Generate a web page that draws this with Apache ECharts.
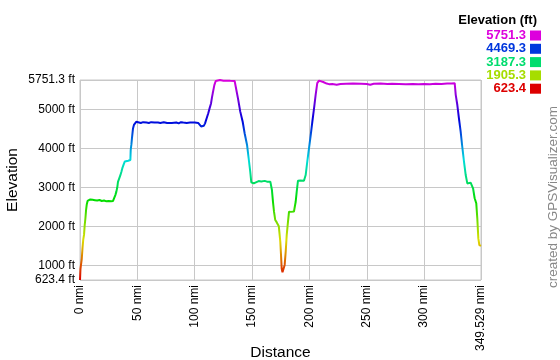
<!DOCTYPE html>
<html>
<head>
<meta charset="utf-8">
<script src="https://cdn.jsdelivr.net/npm/echarts@6/dist/echarts.min.js"></script>
<style>
html,body{margin:0;padding:0;background:#fff;}
#chart{width:560px;height:360px;}
</style>
</head>
<body>
<div id="chart"></div>
<script>
// ---- data ----
const distances = [0,0.4,0.8,1.5,2.2,2.8,3.5,4.1,4.7,5.3,5.9,6.6,7.5,9,11,13,15,17,19,21,23,25,27,28.8,29.6,30.8,31.7,32.5,33.1,34.2,35.2,36.1,36.9,38,39,40.5,42,43.9,44.2,44.8,45.3,46.2,47,47.7,49,50.5,53,55,58,60,62,65,68,70,73,76,80,84,86,88,90,93,96,100,103,104.6,105.5,106.6,108,109,110.4,111.8,113,114.2,115,115.7,116.5,117.1,118.3,120,122,125,128,131,134.8,136,137.7,139.7,141.8,143.5,145.6,147,148.4,149.3,150.5,151.4,153,155.7,158,161,163,165.9,167.3,168.2,169.1,170.2,171.5,172.3,173.3,174.1,174.6,175.2,175.8,176.5,177.2,178.4,179.3,180.2,181.3,182.2,184,186.5,188,188.9,190,192,195.2,196.7,198.1,199.6,201.1,202.5,204,205.4,206.8,208.3,210,212,215,217,220,223.7,227,232,238,245,250,253,256,262,268,272,278,284,290,295,300,305,310,315,320,324,326.6,327.5,328.9,330.3,331.8,333.2,334.7,336.2,337.6,339,340.5,341.1,342.6,344,345.4,346.3,347.2,348.1,349.529];
const elevations = [623.4,900,1000,1150,1450,1650,1780,2030,2200,2420,2560,2650,2700,2690,2680,2670,2660,2675,2650,2660,2640,2650,2640,2650,2700,2800,2890,3000,3140,3230,3310,3400,3490,3580,3660,3690,3680,3700,3960,4100,4260,4510,4600,4640,4680,4670,4650,4670,4660,4650,4670,4660,4660,4650,4670,4650,4650,4660,4640,4670,4660,4650,4660,4660,4650,4640,4560,4520,4580,4640,4770,4900,5030,5150,5300,5410,5530,5620,5725,5740,5751.3,5730,5735,5730,5725,5540,5280,4940,4680,4385,4085,3745,3400,3130,3090,3100,3150,3160,3150,3165,3145,3145,2930,2630,2375,2160,2100,2077,2000,1950,1600,1270,920,820,840,1010,1350,1780,2120,2375,2370,2380,2630,2890,3170,3175,3170,3315,3656,4000,4340,4680,5025,5370,5670,5735,5720,5700,5660,5645,5650,5630,5650,5655,5660,5655,5650,5630,5655,5660,5650,5655,5650,5645,5650,5640,5650,5640,5655,5650,5660,5660,5670,5370,5110,4770,4430,4040,3660,3315,3100,3090,3120,3110,2975,2720,2590,2205,1690,1520,1500];
const yTicks = [623.4, 1000, 2000, 3000, 4000, 5000, 5751.3];
const xTicks = [0, 50, 100, 150, 200, 250, 300, 349.529];
const legendValues = [5751.3, 4469.3, 3187.3, 1905.3, 623.4];
const yName = 'Elevation';
const xName = 'Distance';
const legendTitle = 'Elevation (ft)';
const creditText = 'created by GPSVisualizer.com';

// ---- colour helpers ----
const eMin = yTicks[0], eMax = yTicks[yTicks.length - 1];
function hsvColor(h) {
  const v = 221;
  const hp = (h % 360) / 60;
  const x = Math.round(v * (1 - Math.abs(hp % 2 - 1)));
  let r = 0, g = 0, b = 0;
  if (hp < 1) { r = v; g = x; }
  else if (hp < 2) { r = x; g = v; }
  else if (hp < 3) { g = v; b = x; }
  else if (hp < 4) { g = x; b = v; }
  else if (hp < 5) { r = x; b = v; }
  else { r = v; b = x; }
  return 'rgb(' + r + ',' + g + ',' + b + ')';
}
function elevColor(e) { return hsvColor((e - eMin) / (eMax - eMin) * 300); }
const rampColors = [];
for (let i = 0; i <= 20; i++) rampColors.push(hsvColor(i * 15));

const chart = echarts.init(document.getElementById('chart'), null, { renderer: 'canvas' });

const graphics = [];
graphics.push({
  type: 'text', right: 23, top: 14,
  style: { text: legendTitle, font: 'bold 13px "Liberation Sans", Arial, sans-serif', fill: '#000' }
});
legendValues.forEach((v, i) => {
  const cy = 35.5 + i * 13.3;
  graphics.push({
    type: 'text', x: 526, y: cy,
    style: { text: String(v), font: 'bold 13px "Liberation Sans", Arial, sans-serif', fill: elevColor(v), align: 'right', verticalAlign: 'middle' }
  });
  graphics.push({
    type: 'rect', shape: { x: 530, y: cy - 5, width: 11, height: 10 },
    style: { fill: elevColor(v) }
  });
});
graphics.push({
  type: 'text', x: 553, y: 197, rotation: Math.PI / 2,
  style: { text: creditText, font: '13.5px "Liberation Sans", Arial, sans-serif', fill: '#888', align: 'center', verticalAlign: 'middle' }
});

const option = {
  animation: false,
  backgroundColor: '#fff',
  grid: { left: 80, right: 79, top: 80, bottom: 80, containLabel: false, outerBoundsMode: 'none', show: true, borderColor: '#c8c8c8', borderWidth: 1 },
  xAxis: {
    type: 'value', min: 0, max: xTicks[xTicks.length - 1],
    name: xName, nameLocation: 'middle', nameGap: 65, nameMoveOverlap: false,
    nameTextStyle: { fontFamily: 'Liberation Sans', fontSize: 15.5, color: '#000' },
    axisLine: { show: false },
    axisTick: { show: false, customValues: xTicks },
    axisLabel: { customValues: xTicks, rotate: 90, margin: 5, fontFamily: 'Liberation Sans', fontSize: 12, color: '#000', formatter: v => v + ' nmi' },
    splitLine: { show: true, lineStyle: { color: '#c8c8c8', width: 1 } }
  },
  yAxis: {
    type: 'value', min: eMin, max: eMax,
    name: yName, nameLocation: 'middle', nameGap: 59, nameRotate: 90, nameMoveOverlap: false,
    nameTextStyle: { fontFamily: 'Liberation Sans', fontSize: 15.5, color: '#000' },
    axisLine: { show: false },
    axisTick: { show: false, customValues: yTicks },
    axisLabel: { customValues: yTicks, margin: 5, fontFamily: 'Liberation Sans', fontSize: 12, color: '#000', formatter: v => v + ' ft' },
    splitLine: { show: true, lineStyle: { color: '#c8c8c8', width: 1 } }
  },
  visualMap: {
    type: 'continuous', show: false, dimension: 1, seriesIndex: 0,
    min: eMin, max: eMax, inRange: { color: rampColors }
  },
  series: [{
    type: 'line',
    data: distances.map((d, i) => [d, elevations[i]]),
    showSymbol: false,
    lineStyle: { width: 2 }
  }],
  graphic: graphics
};
chart.setOption(option);
</script>
</body>
</html>
